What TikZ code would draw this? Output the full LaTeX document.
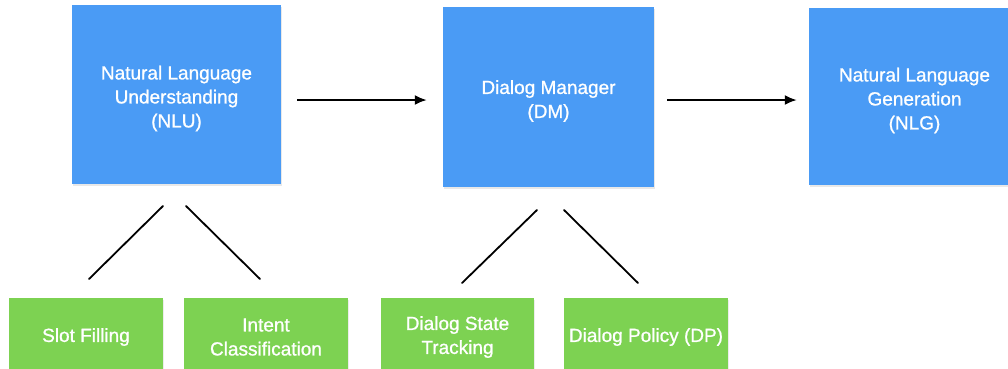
\documentclass[tikz,border=0pt]{standalone}
\usepackage{fontspec}
\setmainfont{Liberation Sans}
\newfontfamily\labelfont{Liberation Sans}[FakeBold=1.0]
\usetikzlibrary{arrows.meta,shadows}
\definecolor{boxblue}{HTML}{4A9BF5}
\definecolor{boxgreen}{HTML}{7DD252}
\begin{document}
\begin{tikzpicture}[x=1pt,y=-1pt,
  boxtext/.style={text=white, align=center, inner sep=0pt,
    font=\labelfont\fontsize{19}{24}\selectfont},
  stagebox/.style={fill=boxblue, inner sep=0pt,
    drop shadow={opacity=0.18, shadow xshift=0.5pt, shadow yshift=-1.5pt}},
  subbox/.style={fill=boxgreen, inner sep=0pt, minimum height=74pt,
    drop shadow={opacity=0.15, shadow xshift=0.5pt, shadow yshift=-1.5pt}},
  stagetext/.style={boxtext, yshift=-4pt},
  subtext/.style={boxtext, yshift=-2pt},
  flow/.style={line width=2pt, -{Latex[length=12pt,width=10pt]}},
  branch/.style={line width=1.8pt, line cap=round}]
\useasboundingbox (0,0) rectangle (1008,368);
\clip (0,0) rectangle (1008,368);

% pipeline stages
\node[stagebox, minimum width=209pt, minimum height=179pt,
  label={[stagetext]center:{Natural Language\\Understanding\\(NLU)}}] (nlu) at (176.5,94.5) {};
\node[stagebox, minimum width=211pt, minimum height=180pt,
  label={[stagetext]center:{Dialog Manager\\(DM)}}] (dm) at (548.5,97) {};
\node[stagebox, minimum width=211pt, minimum height=177pt,
  label={[stagetext]center:{Natural Language\\Generation\\(NLG)}}] (nlg) at (914.5,96.5) {};

% sub-tasks
\node[subbox, minimum width=154pt,
  label={[subtext]center:{Slot Filling}}] (slot) at (86,335) {};
\node[subbox, minimum width=164pt,
  label={[subtext]center:{Intent\\Classification}}] (intent) at (266,335) {};
\node[subbox, minimum width=153pt,
  label={[subtext]center:{Dialog State\\Tracking}}] (dst) at (457.5,335) {};
\node[subbox, minimum width=164pt,
  label={[subtext]center:{Dialog Policy (DP)}}] (dp) at (646,335) {};

% flow between stages
\draw[flow] ([xshift=16pt]nlu.east |- 0,100) -- ([xshift=-16pt]dm.west |- 0,100);
\draw[flow] ([xshift=13pt]dm.east |- 0,100) -- ([xshift=-12pt]nlg.west |- 0,100);

% branches to sub-tasks
\coordinate (nluL) at (163,206);
\coordinate (nluR) at (186,206);
\coordinate (slotT) at (89,279);
\coordinate (intentT) at (260,279);
\coordinate (dmL) at (537,210);
\coordinate (dmR) at (564,210);
\coordinate (dstT) at (462,283);
\coordinate (dpT) at (638,283);
\draw[branch] (nluL) -- (slotT);
\draw[branch] (nluR) -- (intentT);
\draw[branch] (dmL) -- (dstT);
\draw[branch] (dmR) -- (dpT);
\end{tikzpicture}
\end{document}
